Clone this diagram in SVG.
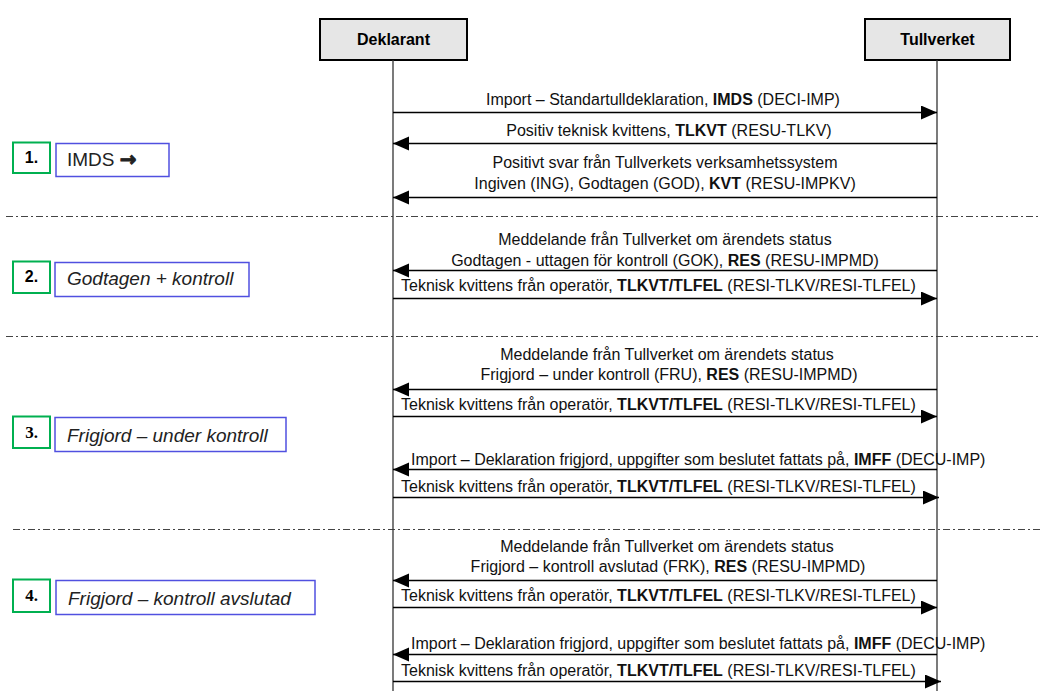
<svg xmlns="http://www.w3.org/2000/svg" width="1040" height="691" viewBox="0 0 1040 691">
<defs>
<marker id="ah" markerUnits="userSpaceOnUse" markerWidth="17" markerHeight="15" refX="16" refY="7" orient="auto">
<path d="M0,0 L16,7 L0,14 z" fill="#000"/>
</marker>
<style>
.hdr{fill:#e6e6e6;stroke:#000;stroke-width:2}
.hdrt{font-family:"Liberation Sans",Arial,sans-serif;font-size:16px;font-weight:bold;text-anchor:middle;fill:#000}
.life{stroke:#333;stroke-width:1.3;fill:none}
.msg{stroke:#000;stroke-width:1.3;fill:none;marker-end:url(#ah)}
.sep{stroke:#444;stroke-width:1.2;stroke-dasharray:7 3 2 3;fill:none}
.t{font-family:"Liberation Sans",Arial,sans-serif;font-size:16px;fill:#111}
.m{text-anchor:middle}
.b{font-weight:bold}
.gbox{fill:#fff;stroke:#00b050;stroke-width:2}
.bbox{fill:#fff;stroke:#5050e0;stroke-width:1.5}
.num{font-family:"Liberation Sans",Arial,sans-serif;font-size:16px;font-weight:bold;text-anchor:middle;fill:#000}
.nums{font-family:"Liberation Serif","Times New Roman",serif;font-size:17px;font-weight:bold;text-anchor:middle;fill:#000}
.lab{font-family:"Liberation Sans",Arial,sans-serif;font-size:19px;fill:#222}
.it{font-style:italic}
.arr{font-family:"DejaVu Sans",sans-serif;font-weight:bold;font-size:20px;stroke:#222;stroke-width:0.9}
</style>
</defs>

<g id="separators">
<line class="sep" x1="6" y1="216.5" x2="1040" y2="216.5"/>
<line class="sep" x1="6" y1="336.5" x2="1040" y2="336.5"/>
<line class="sep" x1="13" y1="529.5" x2="1040" y2="529.5"/>
</g>

<g id="deklarant">
<rect class="hdr" x="320" y="19" width="147" height="41"/>
<text class="hdrt" x="393.5" y="45">Deklarant</text>
</g>
<g id="tullverket">
<rect class="hdr" x="865" y="19" width="145" height="41"/>
<text class="hdrt" x="937.5" y="45">Tullverket</text>
</g>

<g id="lifelines">
<line class="life" x1="393" y1="60" x2="393" y2="691"/>
<line class="life" x1="937" y1="60" x2="937" y2="691"/>
</g>

<g id="step1">
<rect class="gbox" x="13" y="142.5" width="37" height="30.5"/>
<text class="num" x="31.5" y="163">1.</text>
<rect class="bbox" x="56" y="143.5" width="113" height="33"/>
<text class="lab" x="67" y="166">IMDS <tspan class="arr">→</tspan></text>
</g>
<g id="step2">
<rect class="gbox" x="13" y="261.5" width="37" height="31.5"/>
<text class="num" x="31.5" y="282">2.</text>
<rect class="bbox" x="55" y="262.5" width="194" height="34"/>
<text class="lab it" x="67" y="285">Godtagen + kontroll</text>
</g>
<g id="step3">
<rect class="gbox" x="13" y="416.5" width="37" height="31.5"/>
<text class="nums" x="31.5" y="438">3.</text>
<rect class="bbox" x="55" y="417.5" width="231" height="34"/>
<text class="lab it" x="67" y="442">Frigjord – under kontroll</text>
</g>
<g id="step4">
<rect class="gbox" x="13" y="579.5" width="37" height="32.5"/>
<text class="nums" x="31.5" y="601">4.</text>
<rect class="bbox" x="56" y="580.5" width="259" height="34"/>
<text class="lab it" x="68" y="605">Frigjord – kontroll avslutad</text>
</g>

<g id="connectors">
<line class="msg" x1="393" y1="112.5" x2="937" y2="112.5"/>
<line class="msg" x1="937" y1="143.5" x2="393" y2="143.5"/>
<line class="msg" x1="937" y1="197.5" x2="393" y2="197.5"/>
<line class="msg" x1="937" y1="270.5" x2="393" y2="270.5"/>
<line class="msg" x1="393" y1="298.5" x2="937" y2="298.5"/>
<line class="msg" x1="937" y1="389.5" x2="393" y2="389.5"/>
<line class="msg" x1="393" y1="416.5" x2="937" y2="416.5"/>
<line class="msg" x1="937" y1="469.5" x2="393" y2="469.5"/>
<line class="msg" x1="393" y1="497.5" x2="939" y2="497.5"/>
<line class="msg" x1="937" y1="580.5" x2="393" y2="580.5"/>
<line class="msg" x1="393" y1="607.5" x2="937" y2="607.5"/>
<line class="msg" x1="937" y1="654.5" x2="393" y2="654.5"/>
<line class="msg" x1="393" y1="681.5" x2="941" y2="681.5"/>
</g>

<g id="labels">
<text class="t m" x="663" y="105">Import – Standartulldeklaration, <tspan class="b">IMDS</tspan> (DECI-IMP)</text>
<text class="t m" x="669" y="136">Positiv teknisk kvittens, <tspan class="b">TLKVT</tspan> (RESU-TLKV)</text>
<text class="t m" x="665" y="168">Positivt svar från Tullverkets verksamhetssystem</text>
<text class="t m" x="665" y="189">Ingiven (ING), Godtagen (GOD), <tspan class="b">KVT</tspan> (RESU-IMPKV)</text>
<text class="t m" x="665" y="245">Meddelande från Tullverket om ärendets status</text>
<text class="t m" x="665" y="266">Godtagen - uttagen för kontroll (GOK), <tspan class="b">RES</tspan> (RESU-IMPMD)</text>
<text class="t" x="401" y="291">Teknisk kvittens från operatör, <tspan class="b">TLKVT/TLFEL</tspan> (RESI-TLKV/RESI-TLFEL)</text>
<text class="t m" x="667" y="360">Meddelande från Tullverket om ärendets status</text>
<text class="t m" x="669" y="380">Frigjord – under kontroll (FRU), <tspan class="b">RES</tspan> (RESU-IMPMD)</text>
<text class="t" x="401" y="410">Teknisk kvittens från operatör, <tspan class="b">TLKVT/TLFEL</tspan> (RESI-TLKV/RESI-TLFEL)</text>
<text class="t" x="411" y="465">Import – Deklaration frigjord, uppgifter som beslutet fattats på, <tspan class="b">IMFF</tspan> (DECU-IMP)</text>
<text class="t" x="401" y="492">Teknisk kvittens från operatör, <tspan class="b">TLKVT/TLFEL</tspan> (RESI-TLKV/RESI-TLFEL)</text>
<text class="t m" x="667" y="552">Meddelande från Tullverket om ärendets status</text>
<text class="t m" x="668" y="572">Frigjord – kontroll avslutad (FRK), <tspan class="b">RES</tspan> (RESU-IMPMD)</text>
<text class="t" x="401" y="601">Teknisk kvittens från operatör, <tspan class="b">TLKVT/TLFEL</tspan> (RESI-TLKV/RESI-TLFEL)</text>
<text class="t" x="411" y="649">Import – Deklaration frigjord, uppgifter som beslutet fattats på, <tspan class="b">IMFF</tspan> (DECU-IMP)</text>
<text class="t" x="401" y="676">Teknisk kvittens från operatör, <tspan class="b">TLKVT/TLFEL</tspan> (RESI-TLKV/RESI-TLFEL)</text>
</g>
</svg>
